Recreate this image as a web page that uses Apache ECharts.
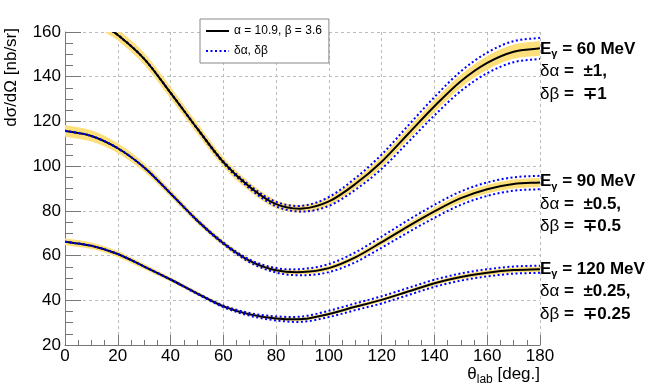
<!DOCTYPE html>
<html><head><meta charset="utf-8">
<script src="https://cdn.jsdelivr.net/npm/echarts@6/dist/echarts.min.js"></script>
<style>html,body{margin:0;padding:0;background:#fff}#c{width:664px;height:392px}</style>
</head><body><div id="c"></div>
<script>
// ---- data ----
const theta   = [0,10,20,30,40,50,60,70,80,90,100,110,120,130,140,150,160,170,180];
const theta60 = [15,20,30,40,50,60,70,80,90,100,110,120,130,140,150,160,170,180];

// E_gamma = 60 MeV
const central60 = [162.5,158.7,148.0,132.8,117.0,101.8,90.7,83.0,81.0,84.2,92.0,102.0,114.4,126.8,138.0,146.2,151.2,152.7];
const band60    = [2.5,2.5,2.6,2.6,2.4,2.2,2.0,1.8,1.7,1.8,2.0,2.3,2.5,2.7,2.9,3.1,3.2,3.3];
const dev60     = [0,0,0,0.1,0.2,0.4,0.7,1.0,1.3,2.0,2.6,3.2,3.7,4.1,4.4,4.6,4.7,4.7];

// E_gamma = 90 MeV
const central90 = [115.8,113.5,108.0,99.4,87.8,75.8,65.5,57.6,53.4,52.6,54.4,59.2,66.0,73.1,79.8,85.7,89.7,92.0,92.7];
const band90    = [2.6,2.5,2.2,1.9,1.6,1.4,1.2,1.1,1.0,1.0,1.1,1.2,1.4,1.5,1.6,1.8,1.9,2.0,2.0];
const dev90     = [0,0,0,0,0.1,0.2,0.35,0.6,1.0,1.4,1.8,2.2,2.5,2.7,2.9,3.0,3.0,3.0,3.0];

// E_gamma = 120 MeV
const central120 = [66.2,64.4,60.7,55.1,49.3,43.1,37.3,33.7,31.9,31.6,33.9,37.1,40.2,43.9,47.6,50.4,52.3,53.5,53.9];
const band120    = [1.6,1.5,1.4,1.2,1.0,0.9,0.8,0.8,0.8,0.8,0.8,0.8,0.8,0.8,0.9,1.0,1.1,1.1,1.2];
const dev120     = [0,0,0,0,0.1,0.2,0.35,0.6,0.9,1.2,1.4,1.5,1.6,1.6,1.6,1.6,1.6,1.6,1.6];

const legendNames = ['α = 10.9, β = 3.6', 'δα, δβ'];
const labels60  = ['60 MeV', '±1,', '∓1'];
const labels90  = ['90 MeV', '±0.5,', '∓0.5'];
const labels120 = ['120 MeV', '±0.25,', '∓0.25'];

// ---- styling ----
const FONT = '"Liberation Sans", Arial, Helvetica, sans-serif';
const YELLOW = '#fde07c';
const BLUE = '#0000ff';
const DOTS = [2, 2.5];

// cubic Hermite spline through pixel points (x monotone), returned as SVG path commands
function splineCmds(pts, first) {
  const n = pts.length, m = [];
  for (let i = 0; i < n; i++) {
    const a = pts[Math.max(0, i - 1)], b = pts[Math.min(n - 1, i + 1)];
    m.push((b[1] - a[1]) / (b[0] - a[0]));
  }
  let s = (first ? 'M' : 'L') + pts[0][0] + ' ' + pts[0][1];
  for (let i = 0; i < n - 1; i++) {
    const h = pts[i + 1][0] - pts[i][0];
    s += ' C' + (pts[i][0] + h / 3) + ' ' + (pts[i][1] + m[i] * h / 3) + ' ' +
         (pts[i + 1][0] - h / 3) + ' ' + (pts[i + 1][1] - m[i + 1] * h / 3) + ' ' +
         pts[i + 1][0] + ' ' + pts[i + 1][1];
  }
  return s;
}

function pairs(xs, ys) { return xs.map((x, i) => [x, ys[i]]); }

function bandSeries(xs, c, hw) {
  const data = xs.map((x, i) => [x, c[i] - hw[i], c[i] + hw[i]]);
  return {
    type: 'custom', name: 'band', silent: true, clip: true, data: data,
    encode: { x: 0, y: [1, 2] },
    renderItem: function (params, api) {
      if (params.dataIndex !== 0) return null;
      const up = data.map(d => api.coord([d[0], d[2]]));
      const lo = data.map(d => api.coord([d[0], d[1]])).reverse();
      return { type: 'path', shape: { pathData: splineCmds(up, true) + ' ' + splineCmds(lo, false) + ' Z' },
               style: { fill: YELLOW, stroke: null } };
    }
  };
}
function curveSeries(xs, ys, color, dash) {
  const data = pairs(xs, ys);
  return {
    type: 'custom', name: 'curve', silent: true, clip: true, data: data,
    encode: { x: 0, y: 1 },
    renderItem: function (params, api) {
      if (params.dataIndex !== 0) return null;
      const pts = data.map(d => api.coord(d));
      return { type: 'path', shape: { pathData: splineCmds(pts, true) },
               style: { fill: null, stroke: color, lineWidth: 2, lineDash: dash || null } };
    }
  };
}
function devSeries(xs, c, d) {
  return [+1, -1].map(s => curveSeries(xs, c.map((v, i) => v + s * d[i]), BLUE, DOTS));
}

const series = [].concat(
  [bandSeries(theta60, central60, band60)],
  [bandSeries(theta, central90, band90)],
  [bandSeries(theta, central120, band120)],
  devSeries(theta60, central60, dev60),
  [curveSeries(theta60, central60, '#000')],
  [curveSeries(theta, central90, '#000')],
  devSeries(theta, central90, dev90),
  [curveSeries(theta, central120, '#000')],
  devSeries(theta, central120, dev120),
  // legend entries
  [{ type: 'line', name: legendNames[0], data: [], symbol: 'none', lineStyle: { color: '#000', width: 2 }, itemStyle: { color: '#000' } },
   { type: 'line', name: legendNames[1], data: [], symbol: 'none', lineStyle: { color: BLUE, width: 2, type: DOTS }, itemStyle: { color: BLUE } }]
);

const richLab = {
  b: { fontFamily: FONT, fontSize: 17, fontWeight: 'bold', fill: '#000', lineHeight: 22.5 },
  s: { fontFamily: FONT, fontSize: 11, fontWeight: 'bold', fill: '#000', lineHeight: 12, padding: [10, 0, 0, 0] },
  n: { fontFamily: FONT, fontSize: 17, fontWeight: 'normal', fill: '#000', lineHeight: 22.5 }
};
function energyLabel(top, lab) {
  return { type: 'text', x: 540, y: top, z: 10,
    style: { text: '{b|E}{s|γ}{b| = ' + lab[0] + '}\n{n|δα}{b| =  ' + lab[1] + '}\n{n|δβ}{b| =  ' + lab[2] + '}',
             rich: richLab, align: 'left', verticalAlign: 'top' } };
}

const axisCommon = {
  axisLine: { show: true, lineStyle: { color: '#777', width: 1 } },
  splitLine: { show: true, lineStyle: { color: '#bbb', type: [3, 3], width: 1 } },
  axisLabel: { color: '#000', fontFamily: FONT, fontSize: 17 }
};

const option = {
  animation: false,
  backgroundColor: '#fff',
  grid: { left: 65, right: 124, top: 32, bottom: 47, containLabel: false },
  xAxis: Object.assign({}, axisCommon, {
    type: 'value', min: 0, max: 180, interval: 20,
    axisTick: { show: true, inside: true, length: 10, lineStyle: { color: '#777' } },
    minorTick: { show: true, splitNumber: 4, length: 5, lineStyle: { color: '#777' } },
    axisLabel: Object.assign({}, axisCommon.axisLabel, { margin: 3 })
  }),
  yAxis: Object.assign({}, axisCommon, {
    type: 'value', min: 20, max: 160, interval: 20,
    axisTick: { show: true, inside: true, length: 16, lineStyle: { color: '#777' } },
    minorTick: { show: true, splitNumber: 4, length: 8, lineStyle: { color: '#777' } },
    axisLabel: Object.assign({}, axisCommon.axisLabel, { margin: 4 })
  }),
  legend: {
    data: legendNames, orient: 'vertical', left: 200, top: 19,
    padding: [6, 7, 6, 5], itemGap: 8, itemWidth: 23, itemHeight: 12,
    backgroundColor: '#fff', borderColor: '#888', borderWidth: 1, borderRadius: 0,
    selectedMode: false,
    itemStyle: { opacity: 0 },
    textStyle: { fontFamily: FONT, fontSize: 12, color: '#000' }
  },
  graphic: [
    { type: 'text', x: 11.5, y: 28, rotation: Math.PI / 2, z: 10,
      style: { text: 'dσ/dΩ [nb/sr]', fontFamily: FONT, fontSize: 17, fill: '#000', align: 'right', verticalAlign: 'middle' } },
    { type: 'text', x: 540, y: 363.5, z: 10,
      style: { text: '{m|θ}{s|lab}{m| [deg.]}', align: 'right', verticalAlign: 'top',
        rich: { m: { fontFamily: FONT, fontSize: 17, fill: '#000', lineHeight: 22 },
                s: { fontFamily: FONT, fontSize: 12, fill: '#000', lineHeight: 12, padding: [10, 0, 0, 0] } } } },
    energyLabel(37.8, labels60),
    energyLabel(170.5, labels90),
    energyLabel(257.8, labels120)
  ],
  series: series
};

const chart = echarts.init(document.getElementById('c'), null, { renderer: 'canvas' });
chart.setOption(option);
</script>
</body></html>
